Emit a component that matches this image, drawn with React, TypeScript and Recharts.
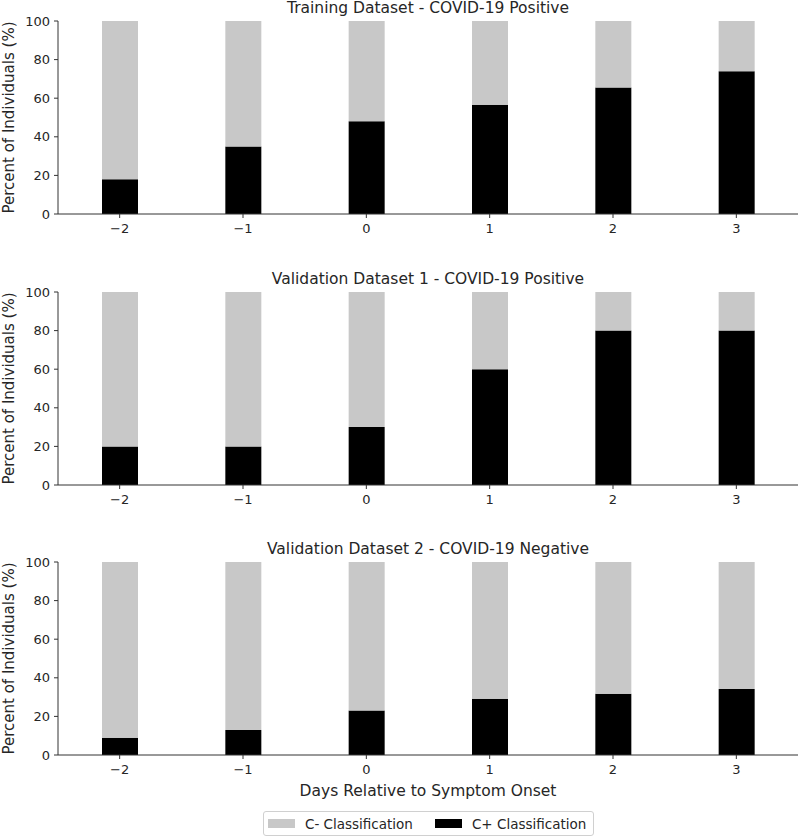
import React from "react";
import { BarChart, Bar, XAxis, YAxis } from "recharts";

// days relative to symptom onset
const days = ["\u22122", "\u22121", "0", "1", "2", "3"];

// % classified C+ per day
const trainingPos = [18, 35, 48, 56.6, 65.5, 74];
const validation1Pos = [20, 20, 30, 60, 80, 80];
const validation2Neg = [9, 13, 23, 29.2, 31.8, 34.2];

// % classified C- per day
const trainingRest = [82, 65, 52, 43.4, 34.5, 26];
const validation1Rest = [80, 80, 70, 40, 20, 20];
const validation2Rest = [91, 87, 77, 70.8, 68.2, 65.8];

const yTicks = [0, 20, 40, 60, 80, 100];

const FONT = "'DejaVu Sans', sans-serif";
const GREY = "#c8c8c8";
const INK = "#262626";

const panels = [
  { title: "Training Dataset - COVID-19 Positive", pos: trainingPos, neg: trainingRest, top: 1 },
  { title: "Validation Dataset 1 - COVID-19 Positive", pos: validation1Pos, neg: validation1Rest, top: 272 },
  { title: "Validation Dataset 2 - COVID-19 Negative", pos: validation2Neg, neg: validation2Rest, top: 542 },
];

function YLabel({ viewBox }: any) {
  const cx = 9;
  const cy = viewBox.y + viewBox.height / 2;
  return (
    <text
      x={cx}
      y={cy}
      transform={`rotate(-90 ${cx} ${cy})`}
      textAnchor="middle"
      dominantBaseline="central"
      fontSize={15}
      fill={INK}
      fontFamily={FONT}
    >
      Percent of Individuals (%)
    </text>
  );
}

function Panel({ title, pos, neg, top }: { title: string; pos: number[]; neg: number[]; top: number }) {
  const rows = days.map((d, i) => ({ day: d, cPos: pos[i], cNeg: neg[i] }));
  return (
    <div style={{ position: "absolute", left: 0, top, width: 800, height: 240 }}>
      <div
        style={{
          position: "absolute",
          left: 58,
          width: 740,
          top: -2,
          textAlign: "center",
          fontSize: 15.5,
          color: INK,
          fontFamily: FONT,
          lineHeight: "18px",
        }}
      >
        {title}
      </div>
      <BarChart
        width={800}
        height={240}
        data={rows}
        margin={{ top: 20, right: 2, left: 0, bottom: 0 }}
        barSize={36}
      >
        <XAxis
          dataKey="day"
          height={27}
          stroke="#333"
          tickSize={4}
          tickMargin={6}
          tick={{ fill: INK, fontSize: 13, fontFamily: FONT }}
        />
        <YAxis
          width={58}
          domain={[0, 100]}
          ticks={yTicks}
          stroke="#333"
          tickSize={4}
          tickMargin={4}
          interval={0}
          tick={{ fill: INK, fontSize: 13, fontFamily: FONT }}
          label={{ content: YLabel }}
        />
        <Bar dataKey="cPos" stackId="a" fill="#000" isAnimationActive={false} />
        <Bar dataKey="cNeg" stackId="a" fill={GREY} isAnimationActive={false} />
      </BarChart>
    </div>
  );
}

export default function App() {
  return (
    <div
      style={{
        position: "absolute",
        left: 0,
        top: 0,
        width: 800,
        height: 837,
        background: "#fff",
        fontFamily: FONT,
      }}
    >
      {panels.map((p) => (
        <Panel key={p.title} {...p} />
      ))}
      <div
        style={{
          position: "absolute",
          left: 58,
          width: 740,
          top: 781,
          textAlign: "center",
          fontSize: 15.5,
          color: INK,
          lineHeight: "20px",
        }}
      >
        Days Relative to Symptom Onset
      </div>
      <div
        style={{
          position: "absolute",
          left: 263,
          top: 811,
          width: 331,
          height: 25,
          boxSizing: "border-box",
          border: "1px solid #d0d0d0",
          borderRadius: 3,
          display: "flex",
          alignItems: "center",
          fontSize: 13.5,
          color: INK,
        }}
      >
        <span style={{ display: "inline-block", width: 27, height: 9, background: GREY, marginLeft: 4 }} />
        <span style={{ marginLeft: 10 }}>C- Classification</span>
        <span style={{ display: "inline-block", width: 27, height: 9, background: "#000", marginLeft: 22 }} />
        <span style={{ marginLeft: 10 }}>C+ Classification</span>
      </div>
    </div>
  );
}
